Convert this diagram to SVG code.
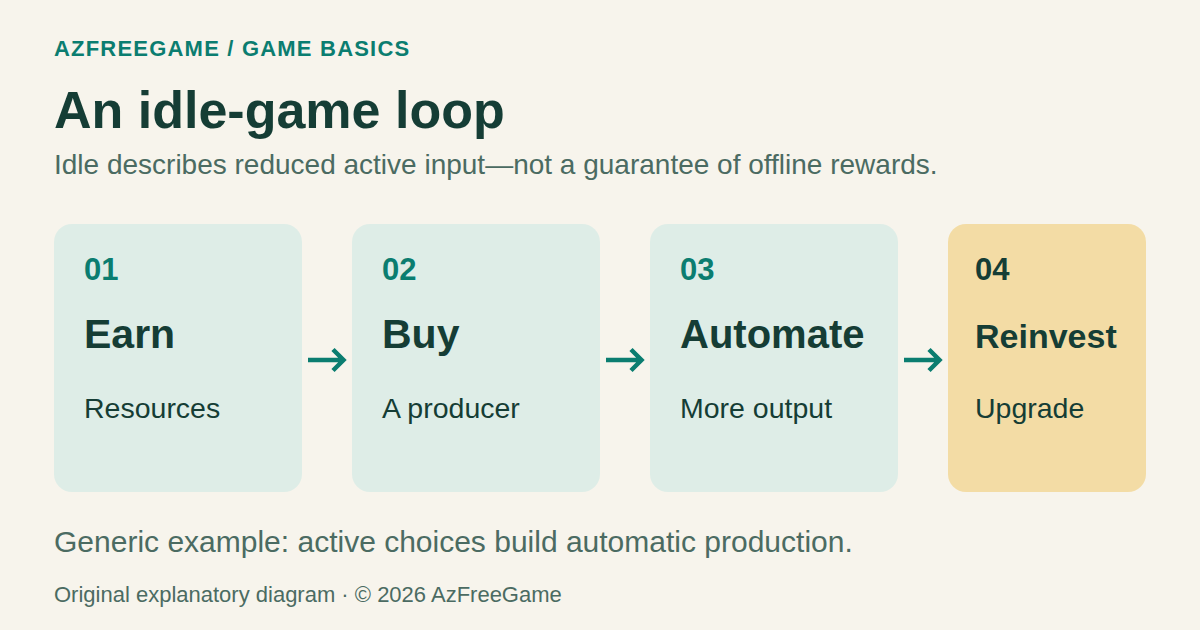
<svg xmlns="http://www.w3.org/2000/svg" width="1200" height="630" viewBox="0 0 1200 630">
<style>
text{font-family:"Liberation Sans",Arial,sans-serif}
.kicker{font-size:22px;font-weight:bold;fill:#0b7d70;letter-spacing:1.2px}
.title{font-size:52px;font-weight:bold;fill:#153d35}
.sub{font-size:28px;fill:#4b6b62}
.card{fill:#deede7}
.card.hl{fill:#f3dca5}
.num{font-size:31px;font-weight:bold;fill:#0b7d70}
.num.dark{fill:#153d35}
.head{font-size:41px;font-weight:bold;fill:#153d35}
.desc{font-size:28.5px;fill:#153d35}
.note{font-size:30px;fill:#4b6b62}
.foot{font-size:22px;fill:#4b6b62}
.arrow{fill:none;stroke:#0b7d70;stroke-width:4.5;stroke-linecap:butt;stroke-linejoin:miter}
</style>
<rect width="1200" height="630" fill="#f7f4ec"/>
<text class="kicker" x="54" y="56">AZFREEGAME / GAME BASICS</text>
<text class="title" x="54" y="128">An idle-game loop</text>
<text class="sub" x="54" y="174">Idle describes reduced active input—not a guarantee of offline rewards.</text>
<g id="node-earn">
<rect class="card" x="54" y="224" width="248" height="268" rx="18"/>
<text class="num" x="84" y="280">01</text>
<text class="head" x="84" y="348">Earn</text>
<text class="desc" x="84" y="418">Resources</text>
</g>
<g id="node-buy">
<rect class="card" x="352" y="224" width="248" height="268" rx="18"/>
<text class="num" x="382" y="280">02</text>
<text class="head" x="382" y="348">Buy</text>
<text class="desc" x="382" y="418">A producer</text>
</g>
<g id="node-automate">
<rect class="card" x="650" y="224" width="248" height="268" rx="18"/>
<text class="num" x="680" y="280">03</text>
<text class="head" x="680" y="348" style="font-size:40px">Automate</text>
<text class="desc" x="680" y="418">More output</text>
</g>
<g id="node-reinvest">
<rect class="card hl" x="948" y="224" width="198" height="268" rx="18"/>
<text class="num dark" x="975" y="280">04</text>
<text class="head" x="975" y="348" style="font-size:34px">Reinvest</text>
<text class="desc" x="975" y="418">Upgrade</text>
</g>
<g id="connectors">
<path class="arrow" d="M308 360 H343 M333 349.5 L343.5 360 L333 370.5"/>
<path class="arrow" d="M606 360 H641 M631 349.5 L641.5 360 L631 370.5"/>
<path class="arrow" d="M904 360 H939 M929 349.5 L939.5 360 L929 370.5"/>
</g>
<text class="note" x="54" y="552">Generic example: active choices build automatic production.</text>
<text class="foot" x="54" y="602">Original explanatory diagram · © 2026 AzFreeGame</text>
</svg>
